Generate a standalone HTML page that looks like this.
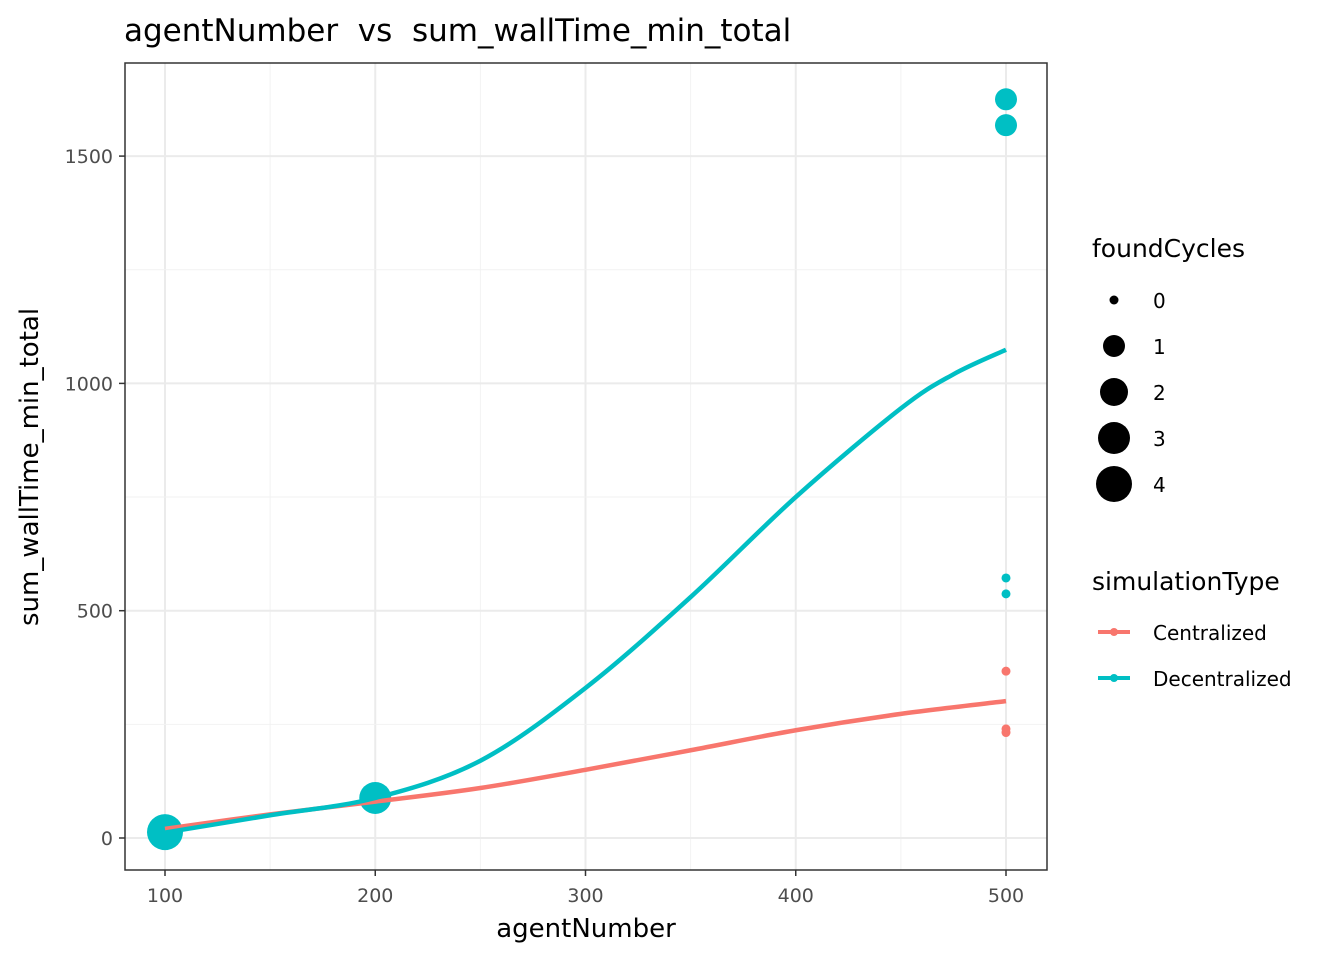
<!DOCTYPE html>
<html><head><meta charset="utf-8"><style>
body{margin:0;background:#fff;font-family:"DejaVu Sans","Liberation Sans",sans-serif}
</style></head><body>
<svg id="c" width="1344" height="960" xmlns="http://www.w3.org/2000/svg" font-family="DejaVu Sans, Liberation Sans, sans-serif">
<text x="124" y="41" font-size="31" fill="#000" xml:space="preserve" style="white-space:pre">agentNumber  vs  sum_wallTime_min_total</text>
<g id="grid"></g><g id="marks"></g>
<rect x="125" y="63" width="922" height="807" fill="none" stroke="#333" stroke-width="1.5"/>
<g id="axes"></g>
<text x="586" y="937" font-size="26" text-anchor="middle">agentNumber</text>
<text transform="translate(38,467) rotate(-90)" font-size="26" text-anchor="middle">sum_wallTime_min_total</text>
<g>
<text x="1092" y="257" font-size="25">foundCycles</text>
<g id="sizeleg"></g>
</g>
<g>
<text x="1092" y="590" font-size="25">simulationType</text>
<g><line x1="1098" y1="632" x2="1130" y2="632" stroke="#F8766D" stroke-width="4"/><circle cx="1114" cy="632" r="4" fill="#F8766D"/><text x="1153" y="640" font-size="20">Centralized</text></g>
<g><line x1="1098" y1="678" x2="1130" y2="678" stroke="#00BFC4" stroke-width="4"/><circle cx="1114" cy="678" r="4" fill="#00BFC4"/><text x="1153" y="686" font-size="20">Decentralized</text></g>
</g>
</svg>
<script>
const xTicks=[100,200,300,400,500];
const yTicks=[0,500,1000,1500];
const centralLineX=[100,150,200,250,300,350,400,450,500];
const centralLineY=[20,52,80,110,150,193,237,273,301];
const decentLineX=[100,150,200,250,300,350,400,450,475,500];
const decentLineY=[12,50,88,170,330,530,750,945,1020,1074];
const ptX=[100,200,500,500,500,500,500,500,500];
const ptY=[13,88,1625,1568,572,537,367,240,232];
const ptSize=[4,3,1,1,0,0,0,0,0];
const ptType=["D","D","D","D","D","D","C","C","C"];
const sizeLevels=[0,1,2,3,4];
const X=v=>165+(v-100)*841/400;
const Y=v=>838-v*227.3/500;
const R=s=>[4.5,11,14,16,18][s];
const NS="http://www.w3.org/2000/svg";
function mk(t,a,p){const e=document.createElementNS(NS,t);for(const k in a)e.setAttribute(k,a[k]);p.appendChild(e);return e;}
const grid=document.getElementById('grid'),axes=document.getElementById('axes'),marks=document.getElementById('marks');
mk('rect',{x:125,y:63,width:922,height:807,fill:'#fff'},grid);
for(let i=0;i<xTicks.length;i++){const v=xTicks[i];
 const l=mk('line',{x1:X(v),x2:X(v),y1:63,y2:870,stroke:'#ebebeb','stroke-width':2},grid);
 
 
 if(i<xTicks.length-1){const m=(v+xTicks[i+1])/2;mk('line',{x1:X(m),x2:X(m),y1:63,y2:870,stroke:'#f2f2f2','stroke-width':1},grid);}
 mk('line',{x1:X(v),x2:X(v),y1:870,y2:876,stroke:'#333','stroke-width':1.5},axes);
 const t=mk('text',{x:X(v),y:902,'font-size':19,fill:'#4d4d4d','text-anchor':'middle'},axes);t.textContent=v;
 
 
}
for(let i=0;i<yTicks.length;i++){const v=yTicks[i];
 const l=mk('line',{x1:125,x2:1047,y1:Y(v),y2:Y(v),stroke:'#ebebeb','stroke-width':2},grid);
 
 
 if(i<yTicks.length-1){const m=v+250;mk('line',{x1:125,x2:1047,y1:Y(m),y2:Y(m),stroke:'#f2f2f2','stroke-width':1},grid);}
 mk('line',{x1:119,x2:125,y1:Y(v),y2:Y(v),stroke:'#333','stroke-width':1.5},axes);
 const t=mk('text',{x:113,y:Y(v)+7,'font-size':19,fill:'#4d4d4d','text-anchor':'end'},axes);t.textContent=v;
 
 
}
function smooth(xs,ys){const p=xs.map((x,i)=>[X(x),Y(ys[i])]);let d=`M${p[0][0]},${p[0][1]}`;
 for(let i=0;i<p.length-1;i++){const p0=p[i-1]||p[i],p1=p[i],p2=p[i+1],p3=p[i+2]||p2;
 d+=` C${p1[0]+(p2[0]-p0[0])/6},${p1[1]+(p2[1]-p0[1])/6} ${p2[0]-(p3[0]-p1[0])/6},${p2[1]-(p3[1]-p1[1])/6} ${p2[0]},${p2[1]}`;}return d;}
for(let i=0;i<ptX.length;i++){
 const c=mk('circle',{cx:X(ptX[i]),cy:Y(ptY[i]),r:R(ptSize[i]),fill:ptType[i]=="C"?'#F8766D':'#00BFC4'},marks);
 
 
}
const lc=mk('path',{d:smooth(centralLineX,centralLineY),fill:'none',stroke:'#F8766D','stroke-width':4.5},marks);


const ld=mk('path',{d:smooth(decentLineX,decentLineY),fill:'none',stroke:'#00BFC4','stroke-width':4.5},marks);


const sl=document.getElementById('sizeleg');
sizeLevels.forEach((s,i)=>{const y=300+i*46;
 const c=mk('circle',{cx:1114,cy:y,r:R(s),fill:'#000'},sl);
 
 
 const t=mk('text',{x:1153,y:y+8,'font-size':20},sl);t.textContent=s;
 
 
});
</script>
</body></html>
